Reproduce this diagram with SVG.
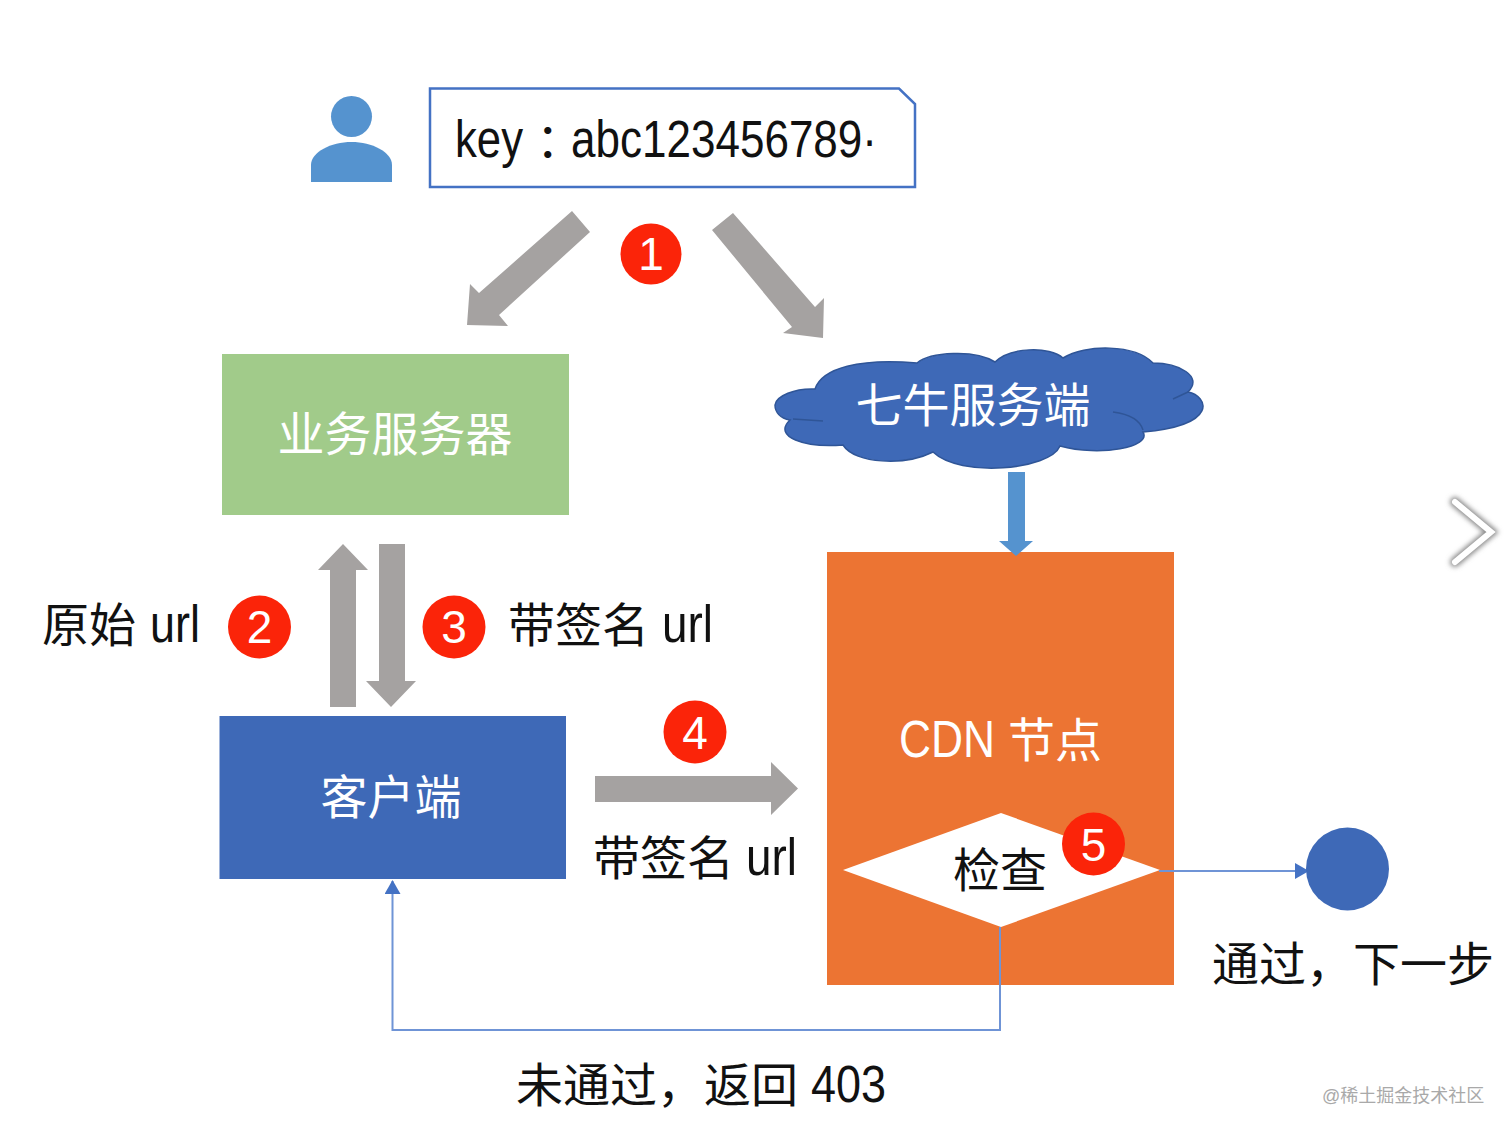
<svg xmlns="http://www.w3.org/2000/svg" width="1512" height="1135" viewBox="0 0 1512 1135">
<defs>
<style>
text{font-family:"Liberation Sans","Noto Sans CJK SC",sans-serif;font-size:47px;fill:#111}
.lat{font-size:51px}
.halt{font-feature-settings:"halt"}
.w{fill:#fff}
.m{text-anchor:middle}
.badge circle{fill:#fb2409}
.badge text{fill:#fff;font-size:46px;text-anchor:middle}
.gray{fill:#a5a2a1}
.thin{fill:none;stroke:#6f94d6;stroke-width:2}
</style>
<filter id="soft" x="-40%" y="-40%" width="180%" height="180%"><feGaussianBlur stdDeviation="2.5"/></filter>
<marker id="tri" viewBox="0 0 14 16" refX="13" refY="8" markerWidth="14" markerHeight="16" markerUnits="userSpaceOnUse" orient="auto"><path d="M0 0L14 8L0 16Z" fill="#4472c4"/></marker>
</defs>
<rect width="1512" height="1135" fill="#fff"/>

<g id="user"><ellipse cx="351.5" cy="116.5" rx="20.5" ry="20.5" fill="#5593cf"/><path d="M311 182V165C311 152 331 142 351.5 142C372 142 392 152 392 165V182Z" fill="#5593cf"/></g>
<g id="key-box"><path d="M430 88.500H899L915 104V187H430Z" fill="#fff" stroke="#4472c4" stroke-width="2.500"/><text y="157"><tspan class="lat" x="455" textLength="68" lengthAdjust="spacingAndGlyphs">key</tspan><tspan class="halt" x="536">：</tspan><tspan class="lat" x="571" textLength="306" lengthAdjust="spacingAndGlyphs">abc123456789·</tspan></text></g>

<g id="business-server"><rect x="222" y="354" width="347" height="161" fill="#a1cb8a"/><text class="w m" x="395" y="451">业务服务器</text></g>

<g id="qiniu-server">
<path d="M775 405C776 396 795 388 815 389C822 368 860 358 917 363C930 352 975 349 995 362C1010 347 1050 346 1063 358C1085 344 1135 344 1153 363C1178 363 1204 376 1188 392C1208 396 1220 425 1143 432C1152 447 1100 457 1060 446C1050 470 960 478 933 452C905 466 855 464 843 445C805 448 772 437 790 420C780 418 775 412 775 405Z" fill="#3e69b7" stroke="#2f5597" stroke-width="1.500"/>
<path d="M1173 399L1188 392M1113 412C1128 414 1140 420 1143 430M793 419L823 421" fill="none" stroke="#2f5597" stroke-width="1.500"/>
<text class="w m" x="973" y="422">七牛服务端</text></g>

<g id="client"><rect x="219.500" y="716" width="346.500" height="163" fill="#3e69b7"/><text class="w m" x="391" y="814">客户端</text></g>

<g id="cdn-node"><rect x="827" y="552" width="347" height="433" fill="#ec7433"/><text class="w" y="757"><tspan class="lat" x="899" textLength="96" lengthAdjust="spacingAndGlyphs">CDN</tspan><tspan x="1008">节点</tspan></text></g>

<g id="connectors">
<path class="gray" d="M572 211L590 232L499 315L508 326L467 325L470 284L479 293Z"/>
<path class="gray" d="M733 213L712 230L792 327L783 333L823 338L824 298L815 307Z"/>
<path class="gray" d="M330 707V570H318L343 544L368 570H356V707Z"/>
<path class="gray" d="M379 544V681H366L391 707L416 681H405V544Z"/>
<path class="gray" d="M595 776H771V762L798 788.500L771 815V802H595Z"/>
<path d="M1008 472H1025V541H1033L1016 556L999 541H1008Z" fill="#5593cf"/>
</g>

<g id="check"><path d="M843 870L1001 813L1160 870L1001 927Z" fill="#fff"/><text class="m" x="1000" y="887">检查</text></g>

<g id="flow-lines">
<path class="thin" d="M1159 871H1308" marker-end="url(#tri)"/>
<path class="thin" d="M1000 927V1030H392.500V881" marker-end="url(#tri)"/>
</g>

<g id="next-step"><circle cx="1347.500" cy="869" r="41.500" fill="#3e69b7"/></g>

<g id="badge-1" class="badge"><circle cx="651" cy="254" r="30.500"/><text x="651" y="270">1</text></g>
<g id="badge-2" class="badge"><circle cx="259.500" cy="627" r="31.500"/><text x="259.500" y="643">2</text></g>
<g id="badge-3" class="badge"><circle cx="454" cy="627" r="31.500"/><text x="454" y="643">3</text></g>
<g id="badge-4" class="badge"><circle cx="695" cy="732" r="31.500"/><text x="695" y="749">4</text></g>
<g id="badge-5" class="badge"><circle cx="1093.500" cy="844" r="31.500"/><text x="1093.500" y="861">5</text></g>

<g id="labels">
<text y="642"><tspan x="42">原始</tspan><tspan class="lat" x="150" textLength="50" lengthAdjust="spacingAndGlyphs">url</tspan></text>
<text y="642"><tspan x="508">带签名</tspan><tspan class="lat" x="662" textLength="51" lengthAdjust="spacingAndGlyphs">url</tspan></text>
<text y="875"><tspan x="593">带签名</tspan><tspan class="lat" x="746" textLength="51" lengthAdjust="spacingAndGlyphs">url</tspan></text>
<text x="1212" y="981">通过，下一步</text>
<text y="1102"><tspan x="516">未通过，返回</tspan><tspan class="lat" x="811" textLength="75" lengthAdjust="spacingAndGlyphs">403</tspan></text>
<text x="1322" y="1102" style="font-size:18px;fill:#a9a9a9">@稀土掘金技术社区</text>
</g>

<g id="chevron">
<path d="M1455 502L1491 532L1455 562" fill="none" stroke="#8a8a8a" stroke-width="10" stroke-linecap="round" stroke-linejoin="miter" filter="url(#soft)"/>
<path d="M1455 502L1491 532L1455 562" fill="none" stroke="#fff" stroke-width="6" stroke-linecap="round" stroke-linejoin="miter"/>
</g>
</svg>
